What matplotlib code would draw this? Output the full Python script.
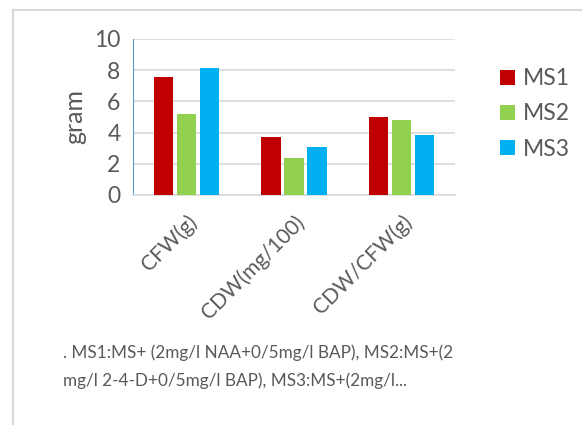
import numpy as np
import matplotlib
matplotlib.use("Agg")
import matplotlib.pyplot as plt
from matplotlib.lines import Line2D

plt.rcParams['font.family'] = ['Lato', 'DejaVu Sans']

categories = ["CFW(g)", "CDW(mg/100)", "CDW/CFW(g)"]
series = ["MS1", "MS2", "MS3"]
ms1 = [7.55, 3.72, 5.02]
ms2 = [5.17, 2.39, 4.83]
ms3 = [8.12, 3.08, 3.85]
colors = ["#c00000", "#92d050", "#00b0f0"]
yticks = [0, 2, 4, 6, 8, 10]
note = (". MS1:MS+ (2mg/l NAA+0/5mg/l BAP), MS2:MS+(2\n"
        "mg/l 2-4-D+0/5mg/l BAP), MS3:MS+(2mg/l...")

txt = "#595959"
fig = plt.figure(figsize=(5.82, 4.25), dpi=100)

# outer frame (only top and left edges visible)
fig.add_artist(Line2D([13 / 582, 13 / 582], [0, 1 - 10 / 425], color="#d9d9d9", lw=1.5))
fig.add_artist(Line2D([13 / 582, 1], [1 - 10 / 425, 1 - 10 / 425], color="#d9d9d9", lw=1.5))

ax = fig.add_axes([133 / 582, 1 - 195 / 425, 322 / 582, 156 / 425])
x = np.arange(len(categories))
w = 0.18
gap = 0.215
for i, (vals, name) in enumerate(zip([ms1, ms2, ms3], series)):
    ax.bar(x + (i - 1) * gap, vals, w, color=colors[i], label=name, zorder=3)

ax.set_xlim(-0.5, 2.5)
ax.set_ylim(0, 10)
ax.set_yticks(yticks)
ax.yaxis.grid(True, color="#d9d9d9", lw=1.2, zorder=0)
for s in ["top", "right"]:
    ax.spines[s].set_visible(False)
ax.spines["left"].set_color("#5b9bd5")
ax.spines["bottom"].set_color("#d9d9d9")
ax.spines["bottom"].set_linewidth(1.2)
ax.tick_params(length=0, labelsize=16.5, labelcolor=txt, pad=9)
ax.set_xticks(x)
ax.set_xticklabels(categories, rotation=45, ha="right", rotation_mode="anchor",
                   fontsize=15)
ax.tick_params(axis="x", pad=12)
ax.set_ylabel("gram", fontsize=18, color=txt, labelpad=6)

ax.legend(loc="upper left", bbox_to_anchor=(1.075, 0.945), frameon=False,
          fontsize=16.5, labelcolor=txt, handlelength=0.65, handleheight=0.65,
          handletextpad=0.35, labelspacing=0.62)

fig.text(63 / 582, 1 - 344 / 425, note, fontsize=12.3, color=txt,
         va="top", ha="left", linespacing=1.85)

fig.savefig("out.png", dpi=100, facecolor="white")
